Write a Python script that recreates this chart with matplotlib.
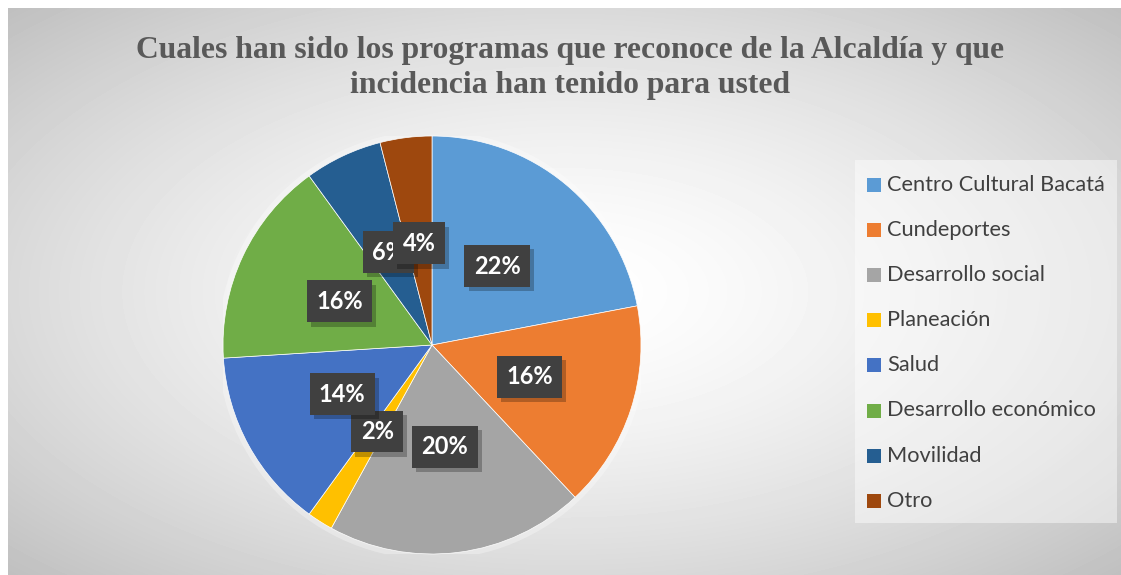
import numpy as np
import matplotlib
matplotlib.use("Agg")
import matplotlib.pyplot as plt
from matplotlib import patheffects
from matplotlib.patches import Rectangle

# datos
programas = ["Centro Cultural Bacatá", "Cundeportes", "Desarrollo social", "Planeación",
             "Salud", "Desarrollo económico", "Movilidad", "Otro"]
porcentajes = [22, 16, 20, 2, 14, 16, 6, 4]
colores = ["#5B9BD5", "#ED7D31", "#A5A5A5", "#FFC000",
           "#4472C4", "#70AD47", "#255E91", "#9E480E"]
titulo = ["Cuales han sido los programas que reconoce de la Alcaldía y que",
          "incidencia han tenido para usted"]

W, H = 1121, 575
fig = plt.figure(figsize=(W / 100, H / 100), dpi=100)
fig.patch.set_facecolor("white")

# fondo con degradado radial (ejes en píxeles)
bg = fig.add_axes([0, 0, 1, 1])
bg.set_xlim(0, W)
bg.set_ylim(H, 0)
bg.axis("off")
yy, xx = np.mgrid[0:H - 8, 0:W - 8]
dx = (xx - (W - 8) / 2) / ((W - 8) / 2)
dy = (yy - (H - 8) / 2) / ((H - 8) / 2)
d = np.sqrt(dx ** 2 + dy ** 2) / np.sqrt(2)
grad = 1 - 0.25 * d ** 1.5
bg.imshow(grad, cmap="gray", vmin=0, vmax=1, extent=(8, W, H, 8), aspect="auto",
          interpolation="bilinear", zorder=0)

for linea, yb in zip(titulo, [58, 93]):
    bg.text(570.5, yb, linea, ha="center", va="baseline", fontsize=22.8,
            fontweight="bold", family="Liberation Serif", color="#595959")

# pastel
cx, cy, r = 432, 345, 209
ax = fig.add_axes([(cx - r) / W, (H - cy - r) / H, 2 * r / W, 2 * r / H])
ax.add_patch(plt.Circle((0, 0), 1.025, color="white", alpha=0.3, lw=0, zorder=0))
wedges, _, autotexts = ax.pie(
    porcentajes, colors=colores, startangle=90, counterclock=False,
    autopct="%d%%", pctdistance=0.49, labels=None,
    wedgeprops=dict(edgecolor="white", linewidth=0.5),
    textprops=dict(color="white", fontsize=17, fontweight="bold", family="Lato"))
for t in autotexts:
    t.set_bbox(dict(boxstyle="square,pad=0.4", facecolor="#404040", linewidth=0))
    t.get_bbox_patch().set_path_effects(
        [patheffects.withSimplePatchShadow(offset=(3, -3), shadow_rgbFace="black", alpha=0.25),
         patheffects.Normal()])
ax.set_xlim(-1, 1)
ax.set_ylim(-1, 1)
ax.axis("off")

# leyenda
bg.add_patch(Rectangle((855, 160), 262, 363, facecolor="white", alpha=0.45, lw=0, zorder=1))
y0, paso = 185, 45.1
for i, (nom, col) in enumerate(zip(programas, colores)):
    y = y0 + i * paso
    bg.add_patch(Rectangle((867, y - 7), 14, 14, facecolor=col, lw=0, zorder=2))
    bg.text(887, y, nom, va="center", ha="left", fontsize=15.7, family="Lato",
            color="#404040", zorder=2)

fig.savefig("out.png", dpi=100)
